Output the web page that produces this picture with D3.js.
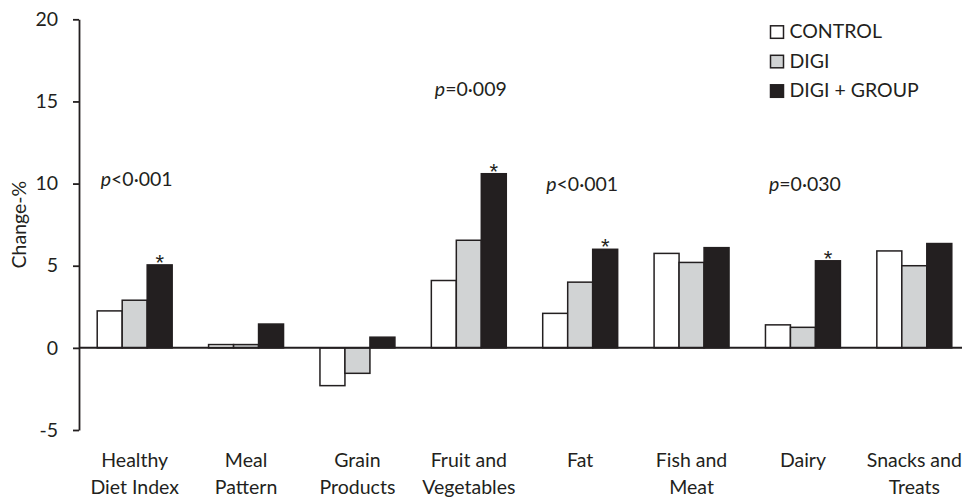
<!DOCTYPE html>
<html>
<head>
<meta charset="utf-8">
<script src="https://cdn.jsdelivr.net/npm/d3@7"></script>
<style>
  body { margin: 0; background: #fff; }
  text { font-family: Lato, "Open Sans", sans-serif; fill: #231f20; }
</style>
</head>
<body>
<div id="chart"></div>
<script>
// values (change-% per food group)
var categories = ["Healthy Diet Index", "Meal Pattern", "Grain Products", "Fruit and Vegetables",
                  "Fat", "Fish and Meat", "Dairy", "Snacks and Treats"];
var categoryLines = [["Healthy", "Diet Index"], ["Meal", "Pattern"], ["Grain", "Products"],
                     ["Fruit and", "Vegetables"], ["Fat"], ["Fish and", "Meat"], ["Dairy"], ["Snacks and", "Treats"]];
var groups = ["CONTROL", "DIGI", "DIGI + GROUP"];
var control   = [2.25, 0.2, -2.3, 4.1, 2.1, 5.75, 1.4, 5.9];
var digi      = [2.9, 0.2, -1.55, 6.55, 4.0, 5.2, 1.25, 5.0];
var digiGroup = [5.05, 1.45, 0.65, 10.6, 6.0, 6.1, 5.3, 6.35];
var starred   = [true, false, false, true, true, false, true, false];
var pValues   = ["<0·001", "", "", "=0·009", "<0·001", "", "=0·030", ""];
var yTicks = [-5, 0, 5, 10, 15, 20];

var width = 962, height = 498;
var ink = "#231f20";
var fills = ["#ffffff", "#d1d3d4", ink];
var fontSize = "19.5px";

var svg = d3.select("#chart").append("svg")
    .attr("width", width)
    .attr("height", height);

var y = d3.scaleLinear().domain([-5, 20]).range([430, 19.3]);

var x0 = d3.scaleBand()
    .domain(categories)
    .range([79, 970])
    .paddingInner(0.327)
    .paddingOuter(0.1635);

var x1 = d3.scaleBand()
    .domain(groups)
    .range([0, x0.bandwidth()]);

var color = d3.scaleOrdinal().domain(groups).range(fills);

var series = [control, digi, digiGroup];
var rows = categories.map(function(c, i) {
  return { cat: c, vals: groups.map(function(g, j) { return { g: g, v: series[j][i] }; }) };
});

// bars
var cat = svg.append("g").selectAll("g")
  .data(rows)
  .enter().append("g")
    .attr("transform", function(d) { return "translate(" + x0(d.cat) + ",0)"; });

cat.selectAll("rect")
  .data(function(d) { return d.vals; })
  .enter().append("rect")
    .attr("x", function(d) { return x1(d.g); })
    .attr("width", x1.bandwidth())
    .attr("y", function(d) { return y(Math.max(0, d.v)); })
    .attr("height", function(d) { return Math.abs(y(d.v) - y(0)); })
    .attr("fill", function(d) { return color(d.g); })
    .attr("stroke", ink)
    .attr("stroke-width", 1.5);

// stars over the DIGI + GROUP bar
svg.append("g").selectAll("text")
  .data(categories.filter(function(c, i) { return starred[i]; }))
  .enter().append("text")
    .attr("x", function(d) { return x0(d) + x1("DIGI + GROUP") + x1.bandwidth() / 2; })
    .attr("y", function(d) { return y(digiGroup[categories.indexOf(d)]) + 5; })
    .attr("text-anchor", "middle")
    .style("font-family", "'Liberation Sans', Arial, sans-serif")
    .style("font-size", "22px")
    .text("*");

// p-values
var pLevel = [9.85, 0, 0, 15.35, 9.55, 0, 9.55, 0];
var ptxt = svg.append("g").selectAll("text")
  .data(categories.filter(function(c, i) { return pValues[i] !== ""; }))
  .enter().append("text")
    .attr("x", function(d) { return x0(d) + x0.bandwidth() / 2 + 2; })
    .attr("y", function(d) { return y(pLevel[categories.indexOf(d)]); })
    .attr("text-anchor", "middle")
    .style("font-size", fontSize);
ptxt.append("tspan").style("font-style", "italic").text("p");
ptxt.append("tspan").text(function(d) { return pValues[categories.indexOf(d)]; });

// y axis
var yAxis = svg.append("g")
    .attr("transform", "translate(79,0)")
    .call(d3.axisLeft(y).tickValues(yTicks).tickFormat(function(d) { return String(d); })
      .tickSize(6).tickSizeOuter(0).tickPadding(15));
yAxis.select(".domain").attr("stroke", ink).attr("stroke-width", 1.8);
yAxis.selectAll(".tick line").attr("stroke", ink).attr("stroke-width", 1.8);
yAxis.selectAll(".tick text")
    .style("font-family", "Lato, 'Open Sans', sans-serif")
    .style("font-size", fontSize)
    .attr("fill", ink);

// zero line
svg.append("line")
    .attr("x1", 79).attr("x2", x0.range()[1])
    .attr("y1", y(0)).attr("y2", y(0))
    .attr("stroke", ink)
    .attr("stroke-width", 2);

svg.append("text")
    .attr("transform", "translate(26," + (y(-5) + y(20)) / 2 + ")rotate(-90)")
    .attr("text-anchor", "middle")
    .style("font-size", fontSize)
    .text("Change-%");

// category labels
var lab = svg.append("g").selectAll("text")
  .data(categories)
  .enter().append("text")
    .attr("x", function(d) { return x0(d) + x0.bandwidth() / 2; })
    .attr("y", 467)
    .attr("text-anchor", "middle")
    .style("font-size", fontSize);
lab.selectAll("tspan")
  .data(function(d) { return categoryLines[categories.indexOf(d)]; })
  .enter().append("tspan")
    .attr("x", function() { return this.parentNode.getAttribute("x"); })
    .attr("dy", function(d, i) { return i === 0 ? 0 : 26.7; })
    .text(function(d) { return d; });

// legend
var legend = svg.append("g").selectAll("g")
  .data(groups)
  .enter().append("g")
    .attr("transform", function(d, i) { return "translate(770," + (38.3 + i * 29.5) + ")"; });

legend.append("rect")
    .attr("x", 0.5).attr("y", -12.5)
    .attr("width", 13).attr("height", 12.5)
    .attr("fill", color)
    .attr("stroke", ink)
    .attr("stroke-width", 1.5);

legend.append("text")
    .attr("x", 19.5)
    .attr("y", 0)
    .style("font-size", fontSize)
    .text(function(d) { return d; });
</script>
</body>
</html>
